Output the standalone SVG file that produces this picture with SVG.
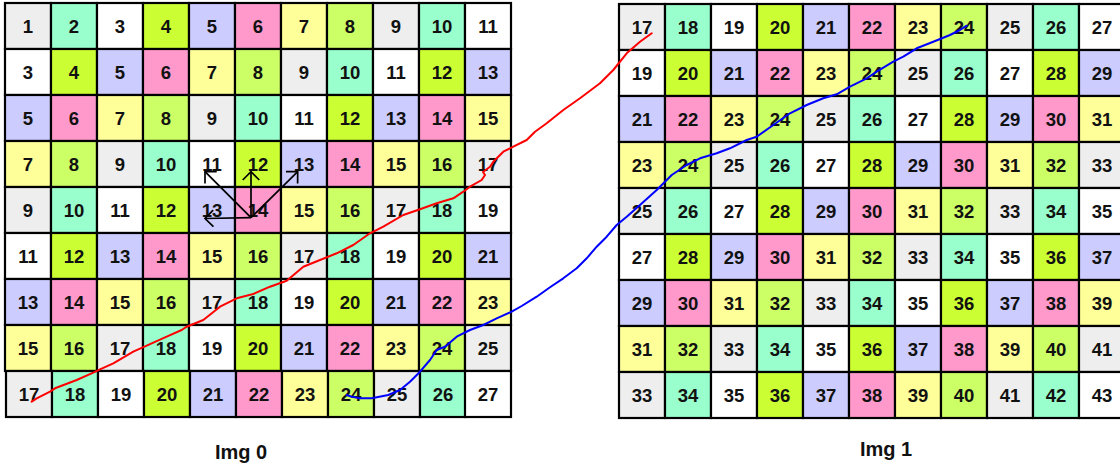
<svg xmlns="http://www.w3.org/2000/svg" width="1120" height="468" viewBox="0 0 1120 468">
<style>
.cell rect{stroke:#000;stroke-width:2.2}
.cell text{font-family:"Liberation Sans",Arial,sans-serif;font-weight:bold;font-size:18.5px;text-anchor:middle;fill:#111}
.k0 rect{fill:#eeeeee}.k1 rect{fill:#99ffcc}.k2 rect{fill:#ffffff}.k3 rect{fill:#ccff33}
.k4 rect{fill:#ccccff}.k5 rect{fill:#ff99cc}.k6 rect{fill:#ffff99}.k7 rect{fill:#ccff66}
.lbl{font-family:"Liberation Sans",Arial,sans-serif;font-weight:bold;font-size:20px;text-anchor:middle;fill:#111}
.arr{stroke:#000;stroke-width:1.7;fill:none;marker-end:url(#head)}
.trace{fill:none;stroke-width:2;stroke-linejoin:round;stroke-linecap:round}
</style>
<defs>
<marker id="head" markerUnits="userSpaceOnUse" viewBox="-10 -10 12 20" markerWidth="12" markerHeight="20" refX="0" refY="0" orient="auto" overflow="visible">
<path d="M-8.3,-8.3 L0,0 L-8.3,8.3" fill="none" stroke="#000" stroke-width="1.7"/>
</marker>
</defs>
<rect width="1120" height="468" fill="#fff"/>
<g id="img0">
<g id="L0-0" class="cell k0" transform="translate(5,3)"><rect width="46" height="46"/><text x="23" y="29.5">1</text></g>
<g id="L0-1" class="cell k1" transform="translate(51,3)"><rect width="46" height="46"/><text x="23" y="29.5">2</text></g>
<g id="L0-2" class="cell k2" transform="translate(97,3)"><rect width="46" height="46"/><text x="23" y="29.5">3</text></g>
<g id="L0-3" class="cell k3" transform="translate(143,3)"><rect width="46" height="46"/><text x="23" y="29.5">4</text></g>
<g id="L0-4" class="cell k4" transform="translate(189,3)"><rect width="46" height="46"/><text x="23" y="29.5">5</text></g>
<g id="L0-5" class="cell k5" transform="translate(235,3)"><rect width="46" height="46"/><text x="23" y="29.5">6</text></g>
<g id="L0-6" class="cell k6" transform="translate(281,3)"><rect width="46" height="46"/><text x="23" y="29.5">7</text></g>
<g id="L0-7" class="cell k7" transform="translate(327,3)"><rect width="46" height="46"/><text x="23" y="29.5">8</text></g>
<g id="L0-8" class="cell k0" transform="translate(373,3)"><rect width="46" height="46"/><text x="23" y="29.5">9</text></g>
<g id="L0-9" class="cell k1" transform="translate(419,3)"><rect width="46" height="46"/><text x="23" y="29.5">10</text></g>
<g id="L0-10" class="cell k2" transform="translate(465,3)"><rect width="46" height="46"/><text x="23" y="29.5">11</text></g>

<g id="L1-0" class="cell k2" transform="translate(5,49)"><rect width="46" height="46"/><text x="23" y="29.5">3</text></g>
<g id="L1-1" class="cell k3" transform="translate(51,49)"><rect width="46" height="46"/><text x="23" y="29.5">4</text></g>
<g id="L1-2" class="cell k4" transform="translate(97,49)"><rect width="46" height="46"/><text x="23" y="29.5">5</text></g>
<g id="L1-3" class="cell k5" transform="translate(143,49)"><rect width="46" height="46"/><text x="23" y="29.5">6</text></g>
<g id="L1-4" class="cell k6" transform="translate(189,49)"><rect width="46" height="46"/><text x="23" y="29.5">7</text></g>
<g id="L1-5" class="cell k7" transform="translate(235,49)"><rect width="46" height="46"/><text x="23" y="29.5">8</text></g>
<g id="L1-6" class="cell k0" transform="translate(281,49)"><rect width="46" height="46"/><text x="23" y="29.5">9</text></g>
<g id="L1-7" class="cell k1" transform="translate(327,49)"><rect width="46" height="46"/><text x="23" y="29.5">10</text></g>
<g id="L1-8" class="cell k2" transform="translate(373,49)"><rect width="46" height="46"/><text x="23" y="29.5">11</text></g>
<g id="L1-9" class="cell k3" transform="translate(419,49)"><rect width="46" height="46"/><text x="23" y="29.5">12</text></g>
<g id="L1-10" class="cell k4" transform="translate(465,49)"><rect width="46" height="46"/><text x="23" y="29.5">13</text></g>

<g id="L2-0" class="cell k4" transform="translate(5,95)"><rect width="46" height="46"/><text x="23" y="29.5">5</text></g>
<g id="L2-1" class="cell k5" transform="translate(51,95)"><rect width="46" height="46"/><text x="23" y="29.5">6</text></g>
<g id="L2-2" class="cell k6" transform="translate(97,95)"><rect width="46" height="46"/><text x="23" y="29.5">7</text></g>
<g id="L2-3" class="cell k7" transform="translate(143,95)"><rect width="46" height="46"/><text x="23" y="29.5">8</text></g>
<g id="L2-4" class="cell k0" transform="translate(189,95)"><rect width="46" height="46"/><text x="23" y="29.5">9</text></g>
<g id="L2-5" class="cell k1" transform="translate(235,95)"><rect width="46" height="46"/><text x="23" y="29.5">10</text></g>
<g id="L2-6" class="cell k2" transform="translate(281,95)"><rect width="46" height="46"/><text x="23" y="29.5">11</text></g>
<g id="L2-7" class="cell k3" transform="translate(327,95)"><rect width="46" height="46"/><text x="23" y="29.5">12</text></g>
<g id="L2-8" class="cell k4" transform="translate(373,95)"><rect width="46" height="46"/><text x="23" y="29.5">13</text></g>
<g id="L2-9" class="cell k5" transform="translate(419,95)"><rect width="46" height="46"/><text x="23" y="29.5">14</text></g>
<g id="L2-10" class="cell k6" transform="translate(465,95)"><rect width="46" height="46"/><text x="23" y="29.5">15</text></g>

<g id="L3-0" class="cell k6" transform="translate(5,141)"><rect width="46" height="46"/><text x="23" y="29.5">7</text></g>
<g id="L3-1" class="cell k7" transform="translate(51,141)"><rect width="46" height="46"/><text x="23" y="29.5">8</text></g>
<g id="L3-2" class="cell k0" transform="translate(97,141)"><rect width="46" height="46"/><text x="23" y="29.5">9</text></g>
<g id="L3-3" class="cell k1" transform="translate(143,141)"><rect width="46" height="46"/><text x="23" y="29.5">10</text></g>
<g id="L3-4" class="cell k2" transform="translate(189,141)"><rect width="46" height="46"/><text x="23" y="29.5">11</text></g>
<g id="L3-5" class="cell k3" transform="translate(235,141)"><rect width="46" height="46"/><text x="23" y="29.5">12</text></g>
<g id="L3-6" class="cell k4" transform="translate(281,141)"><rect width="46" height="46"/><text x="23" y="29.5">13</text></g>
<g id="L3-7" class="cell k5" transform="translate(327,141)"><rect width="46" height="46"/><text x="23" y="29.5">14</text></g>
<g id="L3-8" class="cell k6" transform="translate(373,141)"><rect width="46" height="46"/><text x="23" y="29.5">15</text></g>
<g id="L3-9" class="cell k7" transform="translate(419,141)"><rect width="46" height="46"/><text x="23" y="29.5">16</text></g>
<g id="L3-10" class="cell k0" transform="translate(465,141)"><rect width="46" height="46"/><text x="23" y="29.5">17</text></g>

<g id="L4-0" class="cell k0" transform="translate(5,187)"><rect width="46" height="46"/><text x="23" y="29.5">9</text></g>
<g id="L4-1" class="cell k1" transform="translate(51,187)"><rect width="46" height="46"/><text x="23" y="29.5">10</text></g>
<g id="L4-2" class="cell k2" transform="translate(97,187)"><rect width="46" height="46"/><text x="23" y="29.5">11</text></g>
<g id="L4-3" class="cell k3" transform="translate(143,187)"><rect width="46" height="46"/><text x="23" y="29.5">12</text></g>
<g id="L4-4" class="cell k4" transform="translate(189,187)"><rect width="46" height="46"/><text x="23" y="29.5">13</text></g>
<g id="L4-5" class="cell k5" transform="translate(235,187)"><rect width="46" height="46"/><text x="23" y="29.5">14</text></g>
<g id="L4-6" class="cell k6" transform="translate(281,187)"><rect width="46" height="46"/><text x="23" y="29.5">15</text></g>
<g id="L4-7" class="cell k7" transform="translate(327,187)"><rect width="46" height="46"/><text x="23" y="29.5">16</text></g>
<g id="L4-8" class="cell k0" transform="translate(373,187)"><rect width="46" height="46"/><text x="23" y="29.5">17</text></g>
<g id="L4-9" class="cell k1" transform="translate(419,187)"><rect width="46" height="46"/><text x="23" y="29.5">18</text></g>
<g id="L4-10" class="cell k2" transform="translate(465,187)"><rect width="46" height="46"/><text x="23" y="29.5">19</text></g>

<g id="L5-0" class="cell k2" transform="translate(5,233)"><rect width="46" height="46"/><text x="23" y="29.5">11</text></g>
<g id="L5-1" class="cell k3" transform="translate(51,233)"><rect width="46" height="46"/><text x="23" y="29.5">12</text></g>
<g id="L5-2" class="cell k4" transform="translate(97,233)"><rect width="46" height="46"/><text x="23" y="29.5">13</text></g>
<g id="L5-3" class="cell k5" transform="translate(143,233)"><rect width="46" height="46"/><text x="23" y="29.5">14</text></g>
<g id="L5-4" class="cell k6" transform="translate(189,233)"><rect width="46" height="46"/><text x="23" y="29.5">15</text></g>
<g id="L5-5" class="cell k7" transform="translate(235,233)"><rect width="46" height="46"/><text x="23" y="29.5">16</text></g>
<g id="L5-6" class="cell k0" transform="translate(281,233)"><rect width="46" height="46"/><text x="23" y="29.5">17</text></g>
<g id="L5-7" class="cell k1" transform="translate(327,233)"><rect width="46" height="46"/><text x="23" y="29.5">18</text></g>
<g id="L5-8" class="cell k2" transform="translate(373,233)"><rect width="46" height="46"/><text x="23" y="29.5">19</text></g>
<g id="L5-9" class="cell k3" transform="translate(419,233)"><rect width="46" height="46"/><text x="23" y="29.5">20</text></g>
<g id="L5-10" class="cell k4" transform="translate(465,233)"><rect width="46" height="46"/><text x="23" y="29.5">21</text></g>

<g id="L6-0" class="cell k4" transform="translate(5,279)"><rect width="46" height="46"/><text x="23" y="29.5">13</text></g>
<g id="L6-1" class="cell k5" transform="translate(51,279)"><rect width="46" height="46"/><text x="23" y="29.5">14</text></g>
<g id="L6-2" class="cell k6" transform="translate(97,279)"><rect width="46" height="46"/><text x="23" y="29.5">15</text></g>
<g id="L6-3" class="cell k7" transform="translate(143,279)"><rect width="46" height="46"/><text x="23" y="29.5">16</text></g>
<g id="L6-4" class="cell k0" transform="translate(189,279)"><rect width="46" height="46"/><text x="23" y="29.5">17</text></g>
<g id="L6-5" class="cell k1" transform="translate(235,279)"><rect width="46" height="46"/><text x="23" y="29.5">18</text></g>
<g id="L6-6" class="cell k2" transform="translate(281,279)"><rect width="46" height="46"/><text x="23" y="29.5">19</text></g>
<g id="L6-7" class="cell k3" transform="translate(327,279)"><rect width="46" height="46"/><text x="23" y="29.5">20</text></g>
<g id="L6-8" class="cell k4" transform="translate(373,279)"><rect width="46" height="46"/><text x="23" y="29.5">21</text></g>
<g id="L6-9" class="cell k5" transform="translate(419,279)"><rect width="46" height="46"/><text x="23" y="29.5">22</text></g>
<g id="L6-10" class="cell k6" transform="translate(465,279)"><rect width="46" height="46"/><text x="23" y="29.5">23</text></g>

<g id="L7-0" class="cell k6" transform="translate(5,325)"><rect width="46" height="46"/><text x="23" y="29.5">15</text></g>
<g id="L7-1" class="cell k7" transform="translate(51,325)"><rect width="46" height="46"/><text x="23" y="29.5">16</text></g>
<g id="L7-2" class="cell k0" transform="translate(97,325)"><rect width="46" height="46"/><text x="23" y="29.5">17</text></g>
<g id="L7-3" class="cell k1" transform="translate(143,325)"><rect width="46" height="46"/><text x="23" y="29.5">18</text></g>
<g id="L7-4" class="cell k2" transform="translate(189,325)"><rect width="46" height="46"/><text x="23" y="29.5">19</text></g>
<g id="L7-5" class="cell k3" transform="translate(235,325)"><rect width="46" height="46"/><text x="23" y="29.5">20</text></g>
<g id="L7-6" class="cell k4" transform="translate(281,325)"><rect width="46" height="46"/><text x="23" y="29.5">21</text></g>
<g id="L7-7" class="cell k5" transform="translate(327,325)"><rect width="46" height="46"/><text x="23" y="29.5">22</text></g>
<g id="L7-8" class="cell k6" transform="translate(373,325)"><rect width="46" height="46"/><text x="23" y="29.5">23</text></g>
<g id="L7-9" class="cell k7" transform="translate(419,325)"><rect width="46" height="46"/><text x="23" y="29.5">24</text></g>
<g id="L7-10" class="cell k0" transform="translate(465,325)"><rect width="46" height="46"/><text x="23" y="29.5">25</text></g>

<g id="L8-0" class="cell k0" transform="translate(6,371)"><rect width="46" height="46"/><text x="23" y="29.5">17</text></g>
<g id="L8-1" class="cell k1" transform="translate(52,371)"><rect width="46" height="46"/><text x="23" y="29.5">18</text></g>
<g id="L8-2" class="cell k2" transform="translate(98,371)"><rect width="46" height="46"/><text x="23" y="29.5">19</text></g>
<g id="L8-3" class="cell k3" transform="translate(144,371)"><rect width="46" height="46"/><text x="23" y="29.5">20</text></g>
<g id="L8-4" class="cell k4" transform="translate(190,371)"><rect width="46" height="46"/><text x="23" y="29.5">21</text></g>
<g id="L8-5" class="cell k5" transform="translate(236,371)"><rect width="46" height="46"/><text x="23" y="29.5">22</text></g>
<g id="L8-6" class="cell k6" transform="translate(282,371)"><rect width="46" height="46"/><text x="23" y="29.5">23</text></g>
<g id="L8-7" class="cell k7" transform="translate(328,371)"><rect width="46" height="46"/><text x="23" y="29.5">24</text></g>
<g id="L8-8" class="cell k0" transform="translate(374,371)"><rect width="46" height="46"/><text x="23" y="29.5">25</text></g>
<g id="L8-9" class="cell k1" transform="translate(420,371)"><rect width="46" height="46"/><text x="23" y="29.5">26</text></g>
<g id="L8-10" class="cell k2" transform="translate(465,371)"><rect width="46" height="46"/><text x="23" y="29.5">27</text></g>
</g>

<g id="img1">
<g id="R0-0" class="cell k0" transform="translate(619,4)"><rect width="46" height="46"/><text x="23" y="29.5">17</text></g>
<g id="R0-1" class="cell k1" transform="translate(665,4)"><rect width="46" height="46"/><text x="23" y="29.5">18</text></g>
<g id="R0-2" class="cell k2" transform="translate(711,4)"><rect width="46" height="46"/><text x="23" y="29.5">19</text></g>
<g id="R0-3" class="cell k3" transform="translate(757,4)"><rect width="46" height="46"/><text x="23" y="29.5">20</text></g>
<g id="R0-4" class="cell k4" transform="translate(803,4)"><rect width="46" height="46"/><text x="23" y="29.5">21</text></g>
<g id="R0-5" class="cell k5" transform="translate(849,4)"><rect width="46" height="46"/><text x="23" y="29.5">22</text></g>
<g id="R0-6" class="cell k6" transform="translate(895,4)"><rect width="46" height="46"/><text x="23" y="29.5">23</text></g>
<g id="R0-7" class="cell k7" transform="translate(941,4)"><rect width="46" height="46"/><text x="23" y="29.5">24</text></g>
<g id="R0-8" class="cell k0" transform="translate(987,4)"><rect width="46" height="46"/><text x="23" y="29.5">25</text></g>
<g id="R0-9" class="cell k1" transform="translate(1033,4)"><rect width="46" height="46"/><text x="23" y="29.5">26</text></g>
<g id="R0-10" class="cell k2" transform="translate(1079,4)"><rect width="46" height="46"/><text x="23" y="29.5">27</text></g>

<g id="R1-0" class="cell k2" transform="translate(619,50)"><rect width="46" height="46"/><text x="23" y="29.5">19</text></g>
<g id="R1-1" class="cell k3" transform="translate(665,50)"><rect width="46" height="46"/><text x="23" y="29.5">20</text></g>
<g id="R1-2" class="cell k4" transform="translate(711,50)"><rect width="46" height="46"/><text x="23" y="29.5">21</text></g>
<g id="R1-3" class="cell k5" transform="translate(757,50)"><rect width="46" height="46"/><text x="23" y="29.5">22</text></g>
<g id="R1-4" class="cell k6" transform="translate(803,50)"><rect width="46" height="46"/><text x="23" y="29.5">23</text></g>
<g id="R1-5" class="cell k7" transform="translate(849,50)"><rect width="46" height="46"/><text x="23" y="29.5">24</text></g>
<g id="R1-6" class="cell k0" transform="translate(895,50)"><rect width="46" height="46"/><text x="23" y="29.5">25</text></g>
<g id="R1-7" class="cell k1" transform="translate(941,50)"><rect width="46" height="46"/><text x="23" y="29.5">26</text></g>
<g id="R1-8" class="cell k2" transform="translate(987,50)"><rect width="46" height="46"/><text x="23" y="29.5">27</text></g>
<g id="R1-9" class="cell k3" transform="translate(1033,50)"><rect width="46" height="46"/><text x="23" y="29.5">28</text></g>
<g id="R1-10" class="cell k4" transform="translate(1079,50)"><rect width="46" height="46"/><text x="23" y="29.5">29</text></g>

<g id="R2-0" class="cell k4" transform="translate(619,96)"><rect width="46" height="46"/><text x="23" y="29.5">21</text></g>
<g id="R2-1" class="cell k5" transform="translate(665,96)"><rect width="46" height="46"/><text x="23" y="29.5">22</text></g>
<g id="R2-2" class="cell k6" transform="translate(711,96)"><rect width="46" height="46"/><text x="23" y="29.5">23</text></g>
<g id="R2-3" class="cell k7" transform="translate(757,96)"><rect width="46" height="46"/><text x="23" y="29.5">24</text></g>
<g id="R2-4" class="cell k0" transform="translate(803,96)"><rect width="46" height="46"/><text x="23" y="29.5">25</text></g>
<g id="R2-5" class="cell k1" transform="translate(849,96)"><rect width="46" height="46"/><text x="23" y="29.5">26</text></g>
<g id="R2-6" class="cell k2" transform="translate(895,96)"><rect width="46" height="46"/><text x="23" y="29.5">27</text></g>
<g id="R2-7" class="cell k3" transform="translate(941,96)"><rect width="46" height="46"/><text x="23" y="29.5">28</text></g>
<g id="R2-8" class="cell k4" transform="translate(987,96)"><rect width="46" height="46"/><text x="23" y="29.5">29</text></g>
<g id="R2-9" class="cell k5" transform="translate(1033,96)"><rect width="46" height="46"/><text x="23" y="29.5">30</text></g>
<g id="R2-10" class="cell k6" transform="translate(1079,96)"><rect width="46" height="46"/><text x="23" y="29.5">31</text></g>

<g id="R3-0" class="cell k6" transform="translate(619,142)"><rect width="46" height="46"/><text x="23" y="29.5">23</text></g>
<g id="R3-1" class="cell k7" transform="translate(665,142)"><rect width="46" height="46"/><text x="23" y="29.5">24</text></g>
<g id="R3-2" class="cell k0" transform="translate(711,142)"><rect width="46" height="46"/><text x="23" y="29.5">25</text></g>
<g id="R3-3" class="cell k1" transform="translate(757,142)"><rect width="46" height="46"/><text x="23" y="29.5">26</text></g>
<g id="R3-4" class="cell k2" transform="translate(803,142)"><rect width="46" height="46"/><text x="23" y="29.5">27</text></g>
<g id="R3-5" class="cell k3" transform="translate(849,142)"><rect width="46" height="46"/><text x="23" y="29.5">28</text></g>
<g id="R3-6" class="cell k4" transform="translate(895,142)"><rect width="46" height="46"/><text x="23" y="29.5">29</text></g>
<g id="R3-7" class="cell k5" transform="translate(941,142)"><rect width="46" height="46"/><text x="23" y="29.5">30</text></g>
<g id="R3-8" class="cell k6" transform="translate(987,142)"><rect width="46" height="46"/><text x="23" y="29.5">31</text></g>
<g id="R3-9" class="cell k7" transform="translate(1033,142)"><rect width="46" height="46"/><text x="23" y="29.5">32</text></g>
<g id="R3-10" class="cell k0" transform="translate(1079,142)"><rect width="46" height="46"/><text x="23" y="29.5">33</text></g>

<g id="R4-0" class="cell k0" transform="translate(619,188)"><rect width="46" height="46"/><text x="23" y="29.5">25</text></g>
<g id="R4-1" class="cell k1" transform="translate(665,188)"><rect width="46" height="46"/><text x="23" y="29.5">26</text></g>
<g id="R4-2" class="cell k2" transform="translate(711,188)"><rect width="46" height="46"/><text x="23" y="29.5">27</text></g>
<g id="R4-3" class="cell k3" transform="translate(757,188)"><rect width="46" height="46"/><text x="23" y="29.5">28</text></g>
<g id="R4-4" class="cell k4" transform="translate(803,188)"><rect width="46" height="46"/><text x="23" y="29.5">29</text></g>
<g id="R4-5" class="cell k5" transform="translate(849,188)"><rect width="46" height="46"/><text x="23" y="29.5">30</text></g>
<g id="R4-6" class="cell k6" transform="translate(895,188)"><rect width="46" height="46"/><text x="23" y="29.5">31</text></g>
<g id="R4-7" class="cell k7" transform="translate(941,188)"><rect width="46" height="46"/><text x="23" y="29.5">32</text></g>
<g id="R4-8" class="cell k0" transform="translate(987,188)"><rect width="46" height="46"/><text x="23" y="29.5">33</text></g>
<g id="R4-9" class="cell k1" transform="translate(1033,188)"><rect width="46" height="46"/><text x="23" y="29.5">34</text></g>
<g id="R4-10" class="cell k2" transform="translate(1079,188)"><rect width="46" height="46"/><text x="23" y="29.5">35</text></g>

<g id="R5-0" class="cell k2" transform="translate(619,234)"><rect width="46" height="46"/><text x="23" y="29.5">27</text></g>
<g id="R5-1" class="cell k3" transform="translate(665,234)"><rect width="46" height="46"/><text x="23" y="29.5">28</text></g>
<g id="R5-2" class="cell k4" transform="translate(711,234)"><rect width="46" height="46"/><text x="23" y="29.5">29</text></g>
<g id="R5-3" class="cell k5" transform="translate(757,234)"><rect width="46" height="46"/><text x="23" y="29.5">30</text></g>
<g id="R5-4" class="cell k6" transform="translate(803,234)"><rect width="46" height="46"/><text x="23" y="29.5">31</text></g>
<g id="R5-5" class="cell k7" transform="translate(849,234)"><rect width="46" height="46"/><text x="23" y="29.5">32</text></g>
<g id="R5-6" class="cell k0" transform="translate(895,234)"><rect width="46" height="46"/><text x="23" y="29.5">33</text></g>
<g id="R5-7" class="cell k1" transform="translate(941,234)"><rect width="46" height="46"/><text x="23" y="29.5">34</text></g>
<g id="R5-8" class="cell k2" transform="translate(987,234)"><rect width="46" height="46"/><text x="23" y="29.5">35</text></g>
<g id="R5-9" class="cell k3" transform="translate(1033,234)"><rect width="46" height="46"/><text x="23" y="29.5">36</text></g>
<g id="R5-10" class="cell k4" transform="translate(1079,234)"><rect width="46" height="46"/><text x="23" y="29.5">37</text></g>

<g id="R6-0" class="cell k4" transform="translate(619,280)"><rect width="46" height="46"/><text x="23" y="29.5">29</text></g>
<g id="R6-1" class="cell k5" transform="translate(665,280)"><rect width="46" height="46"/><text x="23" y="29.5">30</text></g>
<g id="R6-2" class="cell k6" transform="translate(711,280)"><rect width="46" height="46"/><text x="23" y="29.5">31</text></g>
<g id="R6-3" class="cell k7" transform="translate(757,280)"><rect width="46" height="46"/><text x="23" y="29.5">32</text></g>
<g id="R6-4" class="cell k0" transform="translate(803,280)"><rect width="46" height="46"/><text x="23" y="29.5">33</text></g>
<g id="R6-5" class="cell k1" transform="translate(849,280)"><rect width="46" height="46"/><text x="23" y="29.5">34</text></g>
<g id="R6-6" class="cell k2" transform="translate(895,280)"><rect width="46" height="46"/><text x="23" y="29.5">35</text></g>
<g id="R6-7" class="cell k3" transform="translate(941,280)"><rect width="46" height="46"/><text x="23" y="29.5">36</text></g>
<g id="R6-8" class="cell k4" transform="translate(987,280)"><rect width="46" height="46"/><text x="23" y="29.5">37</text></g>
<g id="R6-9" class="cell k5" transform="translate(1033,280)"><rect width="46" height="46"/><text x="23" y="29.5">38</text></g>
<g id="R6-10" class="cell k6" transform="translate(1079,280)"><rect width="46" height="46"/><text x="23" y="29.5">39</text></g>

<g id="R7-0" class="cell k6" transform="translate(619,326)"><rect width="46" height="46"/><text x="23" y="29.5">31</text></g>
<g id="R7-1" class="cell k7" transform="translate(665,326)"><rect width="46" height="46"/><text x="23" y="29.5">32</text></g>
<g id="R7-2" class="cell k0" transform="translate(711,326)"><rect width="46" height="46"/><text x="23" y="29.5">33</text></g>
<g id="R7-3" class="cell k1" transform="translate(757,326)"><rect width="46" height="46"/><text x="23" y="29.5">34</text></g>
<g id="R7-4" class="cell k2" transform="translate(803,326)"><rect width="46" height="46"/><text x="23" y="29.5">35</text></g>
<g id="R7-5" class="cell k3" transform="translate(849,326)"><rect width="46" height="46"/><text x="23" y="29.5">36</text></g>
<g id="R7-6" class="cell k4" transform="translate(895,326)"><rect width="46" height="46"/><text x="23" y="29.5">37</text></g>
<g id="R7-7" class="cell k5" transform="translate(941,326)"><rect width="46" height="46"/><text x="23" y="29.5">38</text></g>
<g id="R7-8" class="cell k6" transform="translate(987,326)"><rect width="46" height="46"/><text x="23" y="29.5">39</text></g>
<g id="R7-9" class="cell k7" transform="translate(1033,326)"><rect width="46" height="46"/><text x="23" y="29.5">40</text></g>
<g id="R7-10" class="cell k0" transform="translate(1079,326)"><rect width="46" height="46"/><text x="23" y="29.5">41</text></g>

<g id="R8-0" class="cell k0" transform="translate(619,372)"><rect width="46" height="46"/><text x="23" y="29.5">33</text></g>
<g id="R8-1" class="cell k1" transform="translate(665,372)"><rect width="46" height="46"/><text x="23" y="29.5">34</text></g>
<g id="R8-2" class="cell k2" transform="translate(711,372)"><rect width="46" height="46"/><text x="23" y="29.5">35</text></g>
<g id="R8-3" class="cell k3" transform="translate(757,372)"><rect width="46" height="46"/><text x="23" y="29.5">36</text></g>
<g id="R8-4" class="cell k4" transform="translate(803,372)"><rect width="46" height="46"/><text x="23" y="29.5">37</text></g>
<g id="R8-5" class="cell k5" transform="translate(849,372)"><rect width="46" height="46"/><text x="23" y="29.5">38</text></g>
<g id="R8-6" class="cell k6" transform="translate(895,372)"><rect width="46" height="46"/><text x="23" y="29.5">39</text></g>
<g id="R8-7" class="cell k7" transform="translate(941,372)"><rect width="46" height="46"/><text x="23" y="29.5">40</text></g>
<g id="R8-8" class="cell k0" transform="translate(987,372)"><rect width="46" height="46"/><text x="23" y="29.5">41</text></g>
<g id="R8-9" class="cell k1" transform="translate(1033,372)"><rect width="46" height="46"/><text x="23" y="29.5">42</text></g>
<g id="R8-10" class="cell k2" transform="translate(1079,372)"><rect width="46" height="46"/><text x="23" y="29.5">43</text></g>
</g>

<g id="labels">
<text class="lbl" x="241" y="459">Img 0</text>
<text class="lbl" x="886" y="456">Img 1</text>
</g>

<g id="connectors">
<line class="arr" x1="251" y1="217.7" x2="205" y2="171.7"/>
<line class="arr" x1="251" y1="217.7" x2="251" y2="171.7"/>
<line class="arr" x1="251" y1="217.7" x2="297.7" y2="171.7"/>
<line class="arr" x1="251" y1="217.7" x2="205" y2="218.5"/>
<polyline class="trace" stroke="#ff0000" points="31.7,401.7 36.7,398.3 50,391.7 55,388.3 76.7,380 93.3,372.7 100,369.3 113.3,363.3 133.3,351.7 146.7,345.7 166.7,336.7 181.7,330 186.7,326.7 203.3,320 220,306.7 236.7,298.3 253.3,294 270,286.7 286.7,280.7 303.3,266.7 320,260 336.7,253.3 353.3,245 370,233.3 383.3,226.7 403.3,215 420,209.3 436.7,203.3 453.3,198.3 463.3,191.7 470,186.7 481.7,180 485,175 483,172 490,166.7 493.3,161.7 503.3,151.7 513.3,146.7 526.7,140 535,131.7 546.7,123.3 563.3,110 580,98.3 600,83.3 613.3,70 626.7,53.3 640,41.7 651.7,33.3"/>
<polyline class="trace" stroke="#0000ff" points="346.7,395 351.7,396.7 360,398.3 371.7,398.3 388.3,395 400,390 410,381.7 420,371.7 430,360 436.7,350 445,346.7 456.7,336.7 470,330 483.3,325 496.7,318.3 511.7,311.7 521.7,306 536.7,296.7 550,287.3 563.3,278.3 576.7,268.3 586.7,258.3 596.7,246.7 606.7,236.7 616.7,225 626.7,216.7 640,205 656.7,190 671.7,175 686.7,165 700,158.3 716.7,153.3 730,148.3 746.7,140 756.7,136.7 773.3,125 790,113.3 806.7,105 823.3,98.3 836.7,94.3 850,86.7 866.7,78.3 876.7,71.7 893.3,61.7 903.3,56.7 916.7,48.3 933.3,41.7 950,35 960,30 966.7,25.7"/>
</g>
</svg>
